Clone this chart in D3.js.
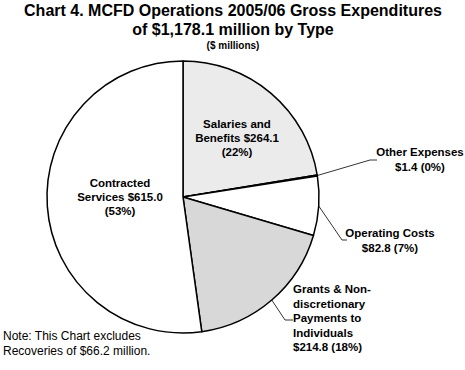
<!DOCTYPE html>
<html>
<head>
<meta charset="utf-8">
<script src="https://cdn.jsdelivr.net/npm/d3@7"></script>
<style>
  body { margin: 0; background: #fff; }
  text { font-family: "Liberation Sans", Arial, sans-serif; fill: #000; }
</style>
</head>
<body>
<div id="chart"></div>
<script>
// data ($ millions)
var categories = ["Salaries and Benefits", "Other Expenses", "Operating Costs",
  "Grants & Non-discretionary Payments to Individuals", "Contracted Services"];
var values = [264.1, 1.4, 82.8, 214.8, 615.0];
var percents = ["22%", "0%", "7%", "18%", "53%"];
var fills = ["#ebebeb", "#ffffff", "#ffffff", "#d8d8d8", "#ffffff"];

var width = 465, height = 370;
var cx = 183, cy = 197, radius = 136;

var svg = d3.select("#chart").append("svg")
  .attr("width", width)
  .attr("height", height);

// title
svg.append("text").attr("x", 233).attr("y", 16)
  .attr("text-anchor", "middle").style("font-size", "16px").style("font-weight", "bold")
  .text("Chart 4. MCFD Operations 2005/06 Gross Expenditures");
svg.append("text").attr("x", 233).attr("y", 35)
  .attr("text-anchor", "middle").style("font-size", "16px").style("font-weight", "bold")
  .text("of $1,178.1 million by Type");
svg.append("text").attr("x", 233).attr("y", 49)
  .attr("text-anchor", "middle").style("font-size", "10px").style("font-weight", "bold")
  .text("($ millions)");

var pie = d3.pie().sort(null).value(function(d) { return d; });
var arc = d3.arc().innerRadius(0).outerRadius(radius);
var arcs = pie(values);

var g = svg.append("g").attr("transform", "translate(" + cx + "," + cy + ")");

g.selectAll("path")
  .data(arcs)
  .enter()
  .append("path")
  .attr("d", arc)
  .style("fill", function(d, i) { return fills[i]; })
  .style("stroke", "#000")
  .style("stroke-width", 1.5)
  .style("stroke-linejoin", "round");

function money(v) { return "$" + v.toFixed(1); }

// label blocks, positioned relative to the pie centre
var labels = [
  { i: 0, x: 54, y: -69, dy: 14, anchor: "middle",
    lines: ["Salaries and", "Benefits " + money(values[0]), "(" + percents[0] + ")"] },
  { i: 1, x: 237, y: -41, dy: 15, anchor: "middle",
    lines: [categories[1], money(values[1]) + " (" + percents[1] + ")"] },
  { i: 2, x: 207, y: 40, dy: 14.5, anchor: "middle",
    lines: [categories[2], money(values[2]) + " (" + percents[2] + ")"] },
  { i: 3, x: 110, y: 96, dy: 14.5, anchor: "start",
    lines: ["Grants & Non-", "discretionary", "Payments to", "Individuals",
      money(values[3]) + " (" + percents[3] + ")"] },
  { i: 4, x: -63, y: -10, dy: 14, anchor: "middle",
    lines: ["Contracted", "Services " + money(values[4]), "(" + percents[4] + ")"] }
];

labels.forEach(function(l) {
  var t = g.append("text")
    .attr("text-anchor", l.anchor)
    .style("font-size", "11.5px")
    .style("font-weight", "bold");
  l.lines.forEach(function(s, k) {
    t.append("tspan").attr("x", l.x).attr("y", l.y + k * l.dy).text(s);
  });
});

// leader lines for the outside labels
var leaders = [
  { i: 1, bend: [187, -37], end: [194, -37] },
  { i: 2, bend: [159, 43], end: [164, 43] },
  { i: 3, bend: [102, 123], end: [110, 123] }
];
leaders.forEach(function(l) {
  var a = arcs[l.i];
  var mid = (a.startAngle + a.endAngle) / 2;
  var p0 = [Math.sin(mid) * radius, -Math.cos(mid) * radius];
  g.append("polyline")
    .attr("points", [p0, l.bend, l.end].map(function(p) { return p.join(","); }).join(" "))
    .style("fill", "none")
    .style("stroke", "#000")
    .style("stroke-width", 0.8);
});

// note
var note = svg.append("text").style("font-size", "12px");
note.append("tspan").attr("x", 3).attr("y", 340).text("Note: This Chart excludes");
note.append("tspan").attr("x", 3).attr("y", 355).text("Recoveries of $66.2 million.");
</script>
</body>
</html>
